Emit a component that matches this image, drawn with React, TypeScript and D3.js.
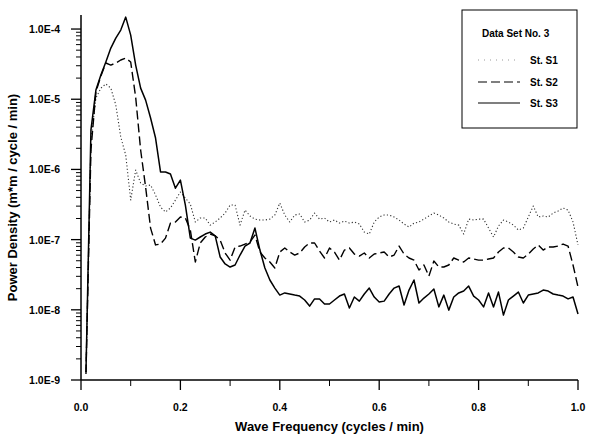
import React from "react";
import * as d3 from "d3";

const freqs = [
  0.01, 0.02, 0.03, 0.04, 0.05, 0.06, 0.07, 0.08, 0.09, 0.1,
  0.11, 0.12, 0.13, 0.14, 0.15, 0.16, 0.17, 0.18, 0.19, 0.2,
  0.21, 0.22, 0.23, 0.24, 0.25, 0.26, 0.27, 0.28, 0.29, 0.3,
  0.31, 0.32, 0.33, 0.34, 0.35, 0.36, 0.37, 0.38, 0.39, 0.4,
  0.41, 0.42, 0.43, 0.44, 0.45, 0.46, 0.47, 0.48, 0.49, 0.5,
  0.51, 0.52, 0.53, 0.54, 0.55, 0.56, 0.57, 0.58, 0.59, 0.6,
  0.61, 0.62, 0.63, 0.64, 0.65, 0.66, 0.67, 0.68, 0.69, 0.7,
  0.71, 0.72, 0.73, 0.74, 0.75, 0.76, 0.77, 0.78, 0.79, 0.8,
  0.81, 0.82, 0.83, 0.84, 0.85, 0.86, 0.87, 0.88, 0.89, 0.9,
  0.91, 0.92, 0.93, 0.94, 0.95, 0.96, 0.97, 0.98, 0.99, 1.0,
];

const stS1 = [
  1.3e-9, 2.62e-6, 1.04e-5, 1.44e-5, 1.65e-5, 1.44e-5, 8.3e-6, 2.9e-6, 1.6e-6, 3.66e-7,
  9.8e-7, 6.4e-7, 5.8e-7, 6.0e-7, 4.32e-7, 2.91e-7, 2.47e-7, 2.82e-7, 3.66e-7, 4.77e-7,
  3.91e-7, 3.21e-7, 1.78e-7, 2.03e-7, 2.03e-7, 1.61e-7, 1.78e-7, 2.03e-7, 2.39e-7, 3.11e-7,
  3.11e-7, 1.61e-7, 2.64e-7, 2.17e-7, 1.96e-7, 1.9e-7, 1.9e-7, 1.96e-7, 2.24e-7, 3.32e-7,
  2.24e-7, 1.78e-7, 2.24e-7, 2.32e-7, 1.78e-7, 1.9e-7, 2.39e-7, 1.96e-7, 2.03e-7, 1.78e-7,
  1.9e-7, 1.72e-7, 1.84e-7, 1.72e-7, 1.78e-7, 1.67e-7, 1.28e-7, 1.2e-7, 1.78e-7, 2.1e-7,
  2.24e-7, 2.24e-7, 2.1e-7, 1.9e-7, 1.67e-7, 1.51e-7, 1.72e-7, 1.78e-7, 1.96e-7, 2.17e-7,
  2.39e-7, 2.24e-7, 2.03e-7, 1.78e-7, 1.67e-7, 1.61e-7, 1.2e-7, 1.96e-7, 1.9e-7, 1.96e-7,
  1.96e-7, 1.46e-7, 1.09e-7, 1.56e-7, 1.9e-7, 1.78e-7, 1.61e-7, 1.37e-7, 1.46e-7, 2.1e-7,
  3.01e-7, 2.1e-7, 2.17e-7, 2.1e-7, 2.39e-7, 2.56e-7, 2.82e-7, 2.64e-7, 1.78e-7, 8.4e-8,
];

const stS2 = [
  1.22e-9, 1.89e-6, 1.27e-5, 2.14e-5, 3.28e-5, 3.07e-5, 3.28e-5, 3.62e-5, 3.86e-5, 3.39e-5,
  1.07e-5, 1.89e-6, 5.6e-7, 1.46e-7, 8.4e-8, 8.65e-8, 1.05e-7, 1.72e-7, 1.78e-7, 2.1e-7,
  2.03e-7, 1.37e-7, 4.8e-8, 8.95e-8, 1.09e-7, 1.2e-7, 1.13e-7, 9.85e-8, 6.45e-8, 5.1e-8,
  7.85e-8, 8.1e-8, 8.65e-8, 9.25e-8, 1.16e-7, 6.65e-8, 5.47e-8, 4.8e-8, 3.94e-8, 6.65e-8,
  7.6e-8, 6.65e-8, 6.03e-8, 6.45e-8, 7.85e-8, 8.95e-8, 8.95e-8, 6.87e-8, 5.47e-8, 7.6e-8,
  6.65e-8, 5.1e-8, 7.1e-8, 7.6e-8, 6.23e-8, 5.83e-8, 6.45e-8, 5.47e-8, 6.23e-8, 6.45e-8,
  6.65e-8, 5.65e-8, 6.03e-8, 8.1e-8, 6.23e-8, 5.47e-8, 5.1e-8, 3.69e-8, 4.35e-8, 3.03e-8,
  4.95e-8, 4.07e-8, 4.07e-8, 4.35e-8, 5.47e-8, 5.1e-8, 4.8e-8, 5.47e-8, 5.3e-8, 5.1e-8,
  5.1e-8, 5.3e-8, 5.47e-8, 6.65e-8, 7.6e-8, 7.6e-8, 6.65e-8, 5.65e-8, 5.47e-8, 6.23e-8,
  7.35e-8, 8.4e-8, 7.1e-8, 7.85e-8, 7.85e-8, 8.1e-8, 8.65e-8, 8.1e-8, 4.35e-8, 2.11e-8,
];

const stS3 = [
  1.3e-9, 3.65e-6, 1.35e-5, 2.21e-5, 3.39e-5, 5.35e-5, 7.44e-5, 9.67e-5, 1.48e-4, 8.2e-5,
  3.07e-5, 1.44e-5, 9.7e-6, 5.4e-6, 2.8e-6, 9.2e-7, 9.2e-7, 8.6e-7, 5.4e-7, 7.05e-7,
  3.1e-7, 1.05e-7, 9.85e-8, 1.09e-7, 1.2e-7, 1.28e-7, 1.13e-7, 5.65e-8, 4.5e-8, 4.07e-8,
  4.35e-8, 6.03e-8, 8.1e-8, 8.95e-8, 1.46e-7, 7.1e-8, 3.94e-8, 2.66e-8, 2.04e-8, 1.62e-8,
  1.74e-8, 1.68e-8, 1.62e-8, 1.57e-8, 1.38e-8, 1.13e-8, 1.43e-8, 1.43e-8, 1.21e-8, 1.21e-8,
  1.38e-8, 1.57e-8, 1.68e-8, 1.06e-8, 1.52e-8, 1.33e-8, 1.68e-8, 2.04e-8, 1.52e-8, 1.29e-8,
  1.33e-8, 1.68e-8, 2.04e-8, 2.18e-8, 1.17e-8, 1.91e-8, 2.66e-8, 1.25e-8, 1.47e-8, 1.68e-8,
  1.98e-8, 1.1e-8, 1.62e-8, 9.9e-9, 1.52e-8, 1.74e-8, 1.85e-8, 2.18e-8, 1.57e-8, 1.38e-8,
  1.1e-8, 1.74e-8, 1.1e-8, 1.79e-8, 8.4e-9, 1.38e-8, 1.57e-8, 1.79e-8, 1.25e-8, 1.62e-8,
  1.68e-8, 1.74e-8, 1.91e-8, 1.85e-8, 1.68e-8, 1.62e-8, 1.57e-8, 1.43e-8, 1.52e-8, 8.7e-9,
];

const seriesNames = ["St. S1", "St. S2", "St. S3"];
const legendTitle = "Data Set No. 3";
const xTickValues = [0, 0.2, 0.4, 0.6, 0.8, 1.0];
const xMinorTickValues = [0.1, 0.3, 0.5, 0.7, 0.9];
const yDecades = [1e-9, 1e-8, 1e-7, 1e-6, 1e-5, 1e-4];
const yTickLabels = ["1.0E-9", "1.0E-8", "1.0E-7", "1.0E-6", "1.0E-5", "1.0E-4"];
const xTitle = "Wave Frequency (cycles / min)";
const yTitle = "Power Density (m*m / cycle / min)";

const W = 590;
const H = 439;
const FONT = "'Liberation Sans', Arial, Helvetica, sans-serif";

export default function App() {
  const x = d3.scaleLinear().domain([0, 1]).range([81, 578]);
  const y = d3.scaleLog().domain([1e-9, Math.pow(10, -3.8)]).range([380, 15]);

  const line = d3
    .line<number>()
    .x((_, i) => x(freqs[i]))
    .y((d) => y(d));

  const styles = [
    { dash: "1.2,2.2", width: 1.1, color: "#333" },
    { dash: "9,4", width: 1.4, color: "#000" },
    { dash: "", width: 1.5, color: "#000" },
  ];
  const data = [stS1, stS2, stS3];

  const minorY: number[] = [];
  for (let di = 0; di < yDecades.length; di++) {
    for (let m = 2; m <= 9; m++) {
      const v = yDecades[di] * m;
      if (v <= Math.pow(10, -3.8)) minorY.push(v);
    }
  }

  const [x0, x1] = x.range();
  const yBottom = y(1e-9);
  const yTop = y.range()[1];

  const legendX = 462;
  const legendY = 10;
  const legendW = 115;
  const legendH = 118;
  const legendRows = [60, 82, 103];

  return (
    <svg
      width={W}
      height={H}
      style={{ position: "absolute", left: 0, top: 0, background: "#fff" }}
      fontFamily={FONT}
    >
      <rect x={0} y={0} width={W} height={H} fill="#fff" />
      {data.map((d, i) => (
        <path
          key={i}
          d={line(d) || ""}
          fill="none"
          stroke={styles[i].color}
          strokeWidth={styles[i].width}
          strokeDasharray={styles[i].dash || undefined}
          strokeLinejoin="round"
        />
      ))}
      <line x1={x0} x2={x0} y1={yTop} y2={yBottom} stroke="#000" strokeWidth={1.5} />
      {yDecades.map((v, i) => (
        <g key={"yt" + i}>
          <line x1={x0 - 10} x2={x0} y1={y(v)} y2={y(v)} stroke="#000" strokeWidth={1.3} />
          <text
            x={60}
            y={y(v) + 4}
            textAnchor="end"
            fontSize={10.5}
            fontWeight="bold"
            fill="#000"
          >
            {yTickLabels[i]}
          </text>
        </g>
      ))}
      {minorY.map((v, i) => (
        <line key={"ym" + i} x1={x0 - 5} x2={x0} y1={y(v)} y2={y(v)} stroke="#000" strokeWidth={1} />
      ))}
      <line x1={x0} x2={x1} y1={yBottom} y2={yBottom} stroke="#000" strokeWidth={1.5} />
      {xTickValues.map((v, i) => (
        <g key={"xt" + i}>
          <line x1={x(v)} x2={x(v)} y1={yBottom} y2={yBottom + 10} stroke="#000" strokeWidth={1.3} />
          <text x={x(v)} y={411} textAnchor="middle" fontSize={10.5} fontWeight="bold" fill="#000">
            {v.toFixed(1)}
          </text>
        </g>
      ))}
      {xMinorTickValues.map((v, i) => (
        <line key={"xm" + i} x1={x(v)} x2={x(v)} y1={yBottom} y2={yBottom + 6} stroke="#000" strokeWidth={1} />
      ))}
      <text x={(x0 + x1) / 2} y={431} textAnchor="middle" fontSize={13} fontWeight="bold" fill="#000">
        {xTitle}
      </text>
      <text
        transform={`translate(17, ${(yTop + yBottom) / 2}) rotate(-90)`}
        textAnchor="middle"
        fontSize={13}
        fontWeight="bold"
        fill="#000"
      >
        {yTitle}
      </text>
      <rect x={legendX} y={legendY} width={legendW} height={legendH} fill="#fff" stroke="#000" strokeWidth={1} />
      <text x={482} y={37} fontSize={10} fontWeight="bold" fill="#000">
        {legendTitle}
      </text>
      {seriesNames.map((name, i) => (
        <g key={"lg" + i}>
          <line
            x1={478}
            x2={520}
            y1={legendRows[i]}
            y2={legendRows[i]}
            stroke={i === 0 ? "#999" : styles[i].color}
            strokeWidth={i === 0 ? 1 : 1.1}
            strokeDasharray={i === 0 ? "1,5" : styles[i].dash || undefined}
          />
          <text x={530} y={legendRows[i] + 3.5} fontSize={10} fontWeight="bold" fill="#000">
            {name}
          </text>
        </g>
      ))}
    </svg>
  );
}
